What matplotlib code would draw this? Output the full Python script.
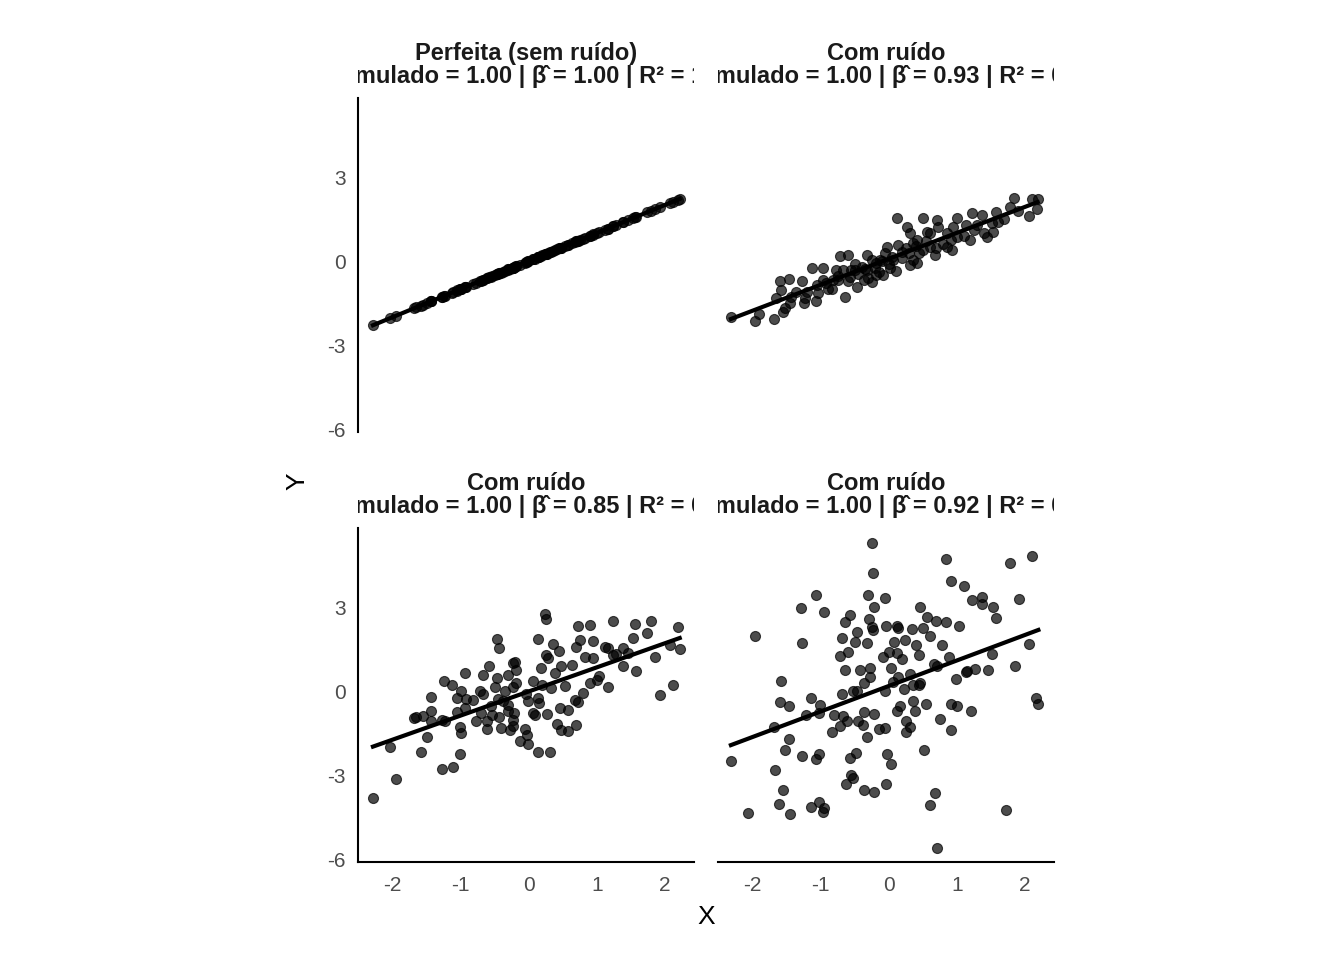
import numpy as np
import matplotlib.pyplot as plt
from matplotlib.transforms import Bbox, TransformedBbox

plt.rcParams['font.family'] = ['Liberation Sans', 'DejaVu Sans']
plt.rcParams['axes.unicode_minus'] = False

# painel "Com ruído" (sd baixo)
x_baixo = [-2.32, -1.97, -1.69, -1.53, -1.55, -1.65, -1.58, -1.60, -1.47, -1.28, -1.23, -1.25,
           -1.07, -1.04, -1.13, -0.96, -0.96, -0.84, -0.77, -0.72, -0.60, -0.64, -0.74, -0.57,
           -0.47, -0.40, -0.32, -0.25, -0.08, -0.32, -0.18, 0.02, -0.03, 0.12, 0.27, 0.31,
           0.36, 0.51, 0.71, 0.73, 0.56, 0.41, 0.61, 0.68, 0.86, 0.93, 1.00, 1.13, 1.23, 1.37,
           1.25, 1.40, 1.52, 1.54, 1.45, 1.20, 1.57, 1.79, 1.84, 2.11, 2.19, 2.18, 2.06, 0.36,
           0.41, 0.31, 0.07, 0.19, -0.18, -0.37, -0.55, -0.67, -0.82, -0.92, -1.06, -1.36,
           -1.43, 0.91, 1.00, 0.51, 0.14, -0.13, -0.50, -0.45, -0.35, -0.20, -0.10, 0.00, 0.05,
           0.20, 0.25, 0.45, 0.55, 0.80, 0.85, 1.10, -0.60, -0.75, -0.90, -1.20, -0.30, 0.10,
           0.60, 0.30, -0.05, -0.50, 0.95, 1.30, 1.70, 1.60, 1.90, -1.90, -1.45, -0.15, 0.40,
           0.70, -0.25]
y_baixo = [-1.99, -2.13, -2.07, -1.69, -1.81, -1.33, -1.04, -0.70, -0.64, -0.70, -1.33, -1.48,
           -1.42, -1.15, -0.26, -0.23, -0.68, -0.98, -0.32, 0.18, 0.21, -1.27, -0.68, -0.56,
           -0.92, -0.20, 0.21, -0.74, -0.50, -0.32, -0.08, -0.26, 0.51, 1.52, 1.23, 0.99,
           0.63, 1.52, 1.46, 1.23, 1.05, 0.75, 0.51, 0.21, 0.51, 0.39, 1.52, 1.29, 1.70, 1.64,
           1.11, 0.99, 1.35, 1.05, 0.85, 0.75, 1.76, 1.94, 2.24, 2.21, 2.20, 1.85, 1.61, 0.04,
           -0.08, -0.14, 0.04, 0.33, -0.50, -0.68, -0.32, -0.32, -0.68, -0.80, -0.86, -1.10,
           -1.27, 0.75, 0.87, 0.39, 0.57, 0.04, -0.32, -0.45, -0.30, -0.25, 0.00, -0.10, 0.15,
           0.10, 0.45, 0.30, 0.70, 0.60, 1.00, 0.90, -0.70, -0.55, -1.00, -1.10, -0.60, -0.35,
           1.00, 0.30, 0.30, -0.10, 1.20, 1.30, 1.50, 1.40, 1.80, -1.90, -1.50, -0.40, 0.55,
           0.45, 0.05]

# painel "Com ruído" (sd médio)
x_medio = [0.24, 0.25, -0.47, -0.43, 0.14, 0.72, 0.90, 1.24, 1.56, 1.80, 2.19, 1.74, 1.53, 0.76,
           0.94, 0.70, 0.35, 0.45, 0.26, 0.28, 1.12, 1.16, 1.39, 1.24, 1.29, 1.46, 2.07, 2.22,
           1.86, 0.83, 0.95, 0.63, 0.47, 0.18, 0.38, -0.58, -0.23, -0.20, -0.18, -0.94, -0.67,
           -0.46, -0.30, -1.25, -1.13, -1.00, -1.43, -1.06, -0.92, -0.82, -0.71, -0.67, -0.50,
           -0.35, -0.19, -0.23, 0.06, 0.20, 0.33, 0.54, 0.90, 1.04, 1.01, 1.16, 1.39, 1.58,
           2.12, 1.93, 0.80, 0.68, 0.72, -0.04, -0.01, 0.13, 0.15, -0.45, -0.38, -0.30, -0.56,
           -0.70, -0.54, -0.44, -0.31, -0.22, -0.23, 0.06, 0.09, 0.27, 0.46, 0.58, -1.05, -0.94,
           -1.44, -1.69, -1.65, -1.55, -1.44, -1.27, -1.23, -0.78, -0.62, -0.61, -0.41, -0.28,
           -0.23, -0.06, -0.02, -0.13, -0.01, 0.42, 0.48, 0.58, 0.70, -1.01, -1.00, -1.50,
           -2.04, -1.59, -1.01, 0.14, 0.32, -1.27, -1.11, -1.95, -2.29]
y_medio = [2.74, 2.57, 1.85, 1.55, 1.86, 2.34, 2.36, 2.50, 2.38, 2.50, 2.28, 2.09, 1.89, 1.83,
           1.77, 1.59, 1.68, 1.44, 1.29, 1.17, 1.59, 1.53, 1.55, 1.29, 1.32, 1.35, 1.65, 1.51,
           1.21, 1.23, 1.17, 0.94, 0.88, 0.82, 0.64, 0.91, 1.00, 1.02, 0.76, 0.64, 0.56, 0.46,
           0.58, 0.37, 0.20, 0.02, -0.21, -0.25, -0.27, -0.31, -0.01, -0.11, 0.13, -0.01, 0.28,
           0.13, 0.37, 0.23, 0.11, 0.17, 0.28, 0.55, 0.40, 0.14, 0.88, 0.70, 0.20, -0.15, -0.07,
           -0.31, -0.40, -0.11, -0.34, -0.25, -0.43, -0.28, -0.37, -0.49, -0.55, -0.78, -0.84,
           -0.93, -0.72, -0.78, -1.02, -0.78, -0.87, -0.81, -0.60, -0.69, -0.76, -0.60, -0.72,
           -0.96, -0.94, -0.90, -1.06, -1.02, -1.06, -1.06, -1.06, -1.35, -1.32, -1.38, -1.26,
           -1.35, -1.55, -1.77, -1.89, -1.16, -1.38, -1.44, -1.22, -1.29, -1.49, -1.65, -1.99,
           -2.17, -2.24, -2.17, -2.17, -2.78, -2.72, -3.12, -3.83]

# painel "Com ruído" (sd alto)
x_alto = [-0.24, 0.84, 2.11, 1.79, -0.23, 0.91, 1.10, -1.07, -0.31, -0.05, 1.91, 1.23, 1.37, 1.37,
          1.54, 1.57, -1.29, -0.95, -0.21, 0.46, -0.57, -0.65, -0.29, 0.56, 0.70, 0.84, -0.25,
          -0.23, -0.04, 0.12, 0.14, 0.34, 0.50, 1.03, -0.47, -0.69, -0.50, -0.32, 0.24, 0.61,
          -1.97, -1.27, 0.08, 0.40, 0.79, 2.06, -0.72, -0.60, -0.08, 0.01, 0.12, 0.19, 0.44,
          0.89, 1.52, -0.64, -0.42, -0.27, -0.28, -0.37, 0.04, 0.14, 0.31, 0.46, 0.66, 0.71,
          1.15, 1.13, 1.27, 1.46, 1.85, -1.58, 0.99, -0.69, -0.52, -0.46, -0.05, 0.07, 0.22,
          0.36, 0.44, -1.14, -1.01, -1.60, -1.46, -1.22, -1.02, -0.81, -0.67, -0.37, -0.22,
          0.12, 0.16, 0.36, 0.39, 0.55, 0.91, 1.00, 1.21, 2.17, 2.20, -1.69, -0.84, -0.71,
          -0.62, -0.45, -0.38, -0.14, -0.05, 0.26, 0.31, 0.26, 0.75, 0.92, -1.47, -0.32, -1.52,
          -1.27, -1.07, -1.02, -0.57, -0.48, -0.03, 0.04, 0.52, -2.32, -1.67, -0.56, -0.53,
          -0.63, -0.04, -1.55, -0.37, -0.22, 0.68, 0.60, -1.62, -1.14, -1.02, -0.95, -0.96,
          -2.07, -1.45, 1.72, 0.71]
y_alto = [5.29, 4.73, 4.82, 4.57, 4.22, 3.94, 3.76, 3.44, 3.43, 3.33, 3.27, 3.25, 3.37, 3.10,
          3.01, 2.60, 2.95, 2.82, 3.00, 3.00, 2.70, 2.48, 2.57, 2.66, 2.50, 2.47, 2.30, 2.18,
          2.33, 2.34, 2.24, 2.21, 2.24, 2.31, 2.11, 1.89, 1.74, 1.71, 1.83, 1.95, 1.98, 1.70,
          1.74, 1.63, 1.65, 1.67, 1.26, 1.40, 1.23, 1.41, 1.35, 1.15, 1.29, 1.22, 1.34, 0.74,
          0.74, 0.84, 0.52, 0.28, 0.82, 0.52, 0.60, 0.28, 0.96, 0.91, 0.70, 0.68, 0.78, 0.77,
          0.88, 0.36, 0.42, -0.09, 0.01, -0.01, 0.02, 0.32, 0.08, 0.23, 0.23, -0.25, -0.49,
          -0.40, -0.55, -0.84, -0.78, -0.84, -0.90, -0.75, -0.81, -0.70, -0.55, -0.37, -0.70,
          -0.46, -0.45, -0.55, -0.70, -0.23, -0.46, -1.28, -1.46, -1.26, -1.06, -1.06, -1.20,
          -1.35, -1.32, -1.06, -1.29, -1.46, -0.98, -1.38, -1.70, -1.65, -2.12, -2.33, -2.41,
          -2.24, -2.38, -2.21, -2.23, -2.59, -2.11, -2.50, -2.82, -2.98, -3.10, -3.30, -3.30,
          -3.52, -3.53, -3.59, -3.65, -4.05, -4.02, -4.14, -3.95, -4.16, -4.31, -4.34, -4.37,
          -4.25, -5.61]

# painel sem ruído: os pontos caem exatamente sobre y = x
x_perfeita = list(x_medio)
y_perfeita = list(x_medio)

paineis = [
    ("Perfeita (sem ruído)", "1.00", "1.00", "1.00", x_perfeita, y_perfeita),
    ("Com ruído", "1.00", "0.93", "0.85", x_baixo, y_baixo),
    ("Com ruído", "1.00", "0.85", "0.55", x_medio, y_medio),
    ("Com ruído", "1.00", "0.92", "0.19", x_alto, y_alto),
]

fig = plt.figure(figsize=(13.44, 9.6), dpi=100)

W, H = 1344, 960
posicoes = [(358, 98), (718, 98), (358, 528), (718, 528)]
lado = 336

for i, (nome, b_sim, b_hat, r2, xs, ys) in enumerate(paineis):
    px, py = posicoes[i]
    ax = fig.add_axes([px / W, 1 - (py + 334) / H, lado / W, 334 / H])
    xs = np.array(xs)
    ys = np.array(ys)
    ax.scatter(xs, ys, s=52, color='black', alpha=0.7, edgecolors='black',
               linewidths=0.8, zorder=2)
    coef = np.polyfit(xs, ys, 1)
    xl = np.array([xs.min(), xs.max()])
    ax.plot(xl, np.polyval(coef, xl), color='black', lw=3, zorder=3)

    ax.set_xlim(-2.51, 2.43)
    ax.set_ylim(-6.1, 5.82)
    ax.set_xticks([-2, -1, 0, 1, 2])
    ax.set_yticks([-6, -3, 0, 3])
    ax.tick_params(length=0, labelsize=15, labelcolor='#4d4d4d')
    ax.tick_params(axis='x', pad=10)
    ax.tick_params(axis='y', pad=9)
    for s in ['top', 'right', 'left', 'bottom']:
        ax.spines[s].set_visible(False)
    if i % 2 == 0:
        ax.spines['left'].set_visible(True)
        ax.spines['left'].set_linewidth(1.5)
    else:
        ax.set_yticklabels([])
    if i >= 2:
        ax.spines['bottom'].set_visible(True)
        ax.spines['bottom'].set_linewidth(1.5)
    else:
        ax.set_xticklabels([])

    # o texto da faixa é mais largo que o painel e fica cortado nas bordas
    titulo = f"{nome}\nβ simulado = {b_sim} | β\u0302 = {b_hat} | R² = {r2}"
    t = ax.text(0.5, 1.0 + 10 / 334, titulo, transform=ax.transAxes, ha='center',
                va='bottom', fontsize=17, fontweight='bold', color='#1a1a1a',
                linespacing=0.98)
    t.set_clip_box(TransformedBbox(Bbox.from_extents(0, 1, 1, 1.4), ax.transAxes))
    t.set_clip_on(True)

fig.text(706 / W, 1 - 917 / H, "X", ha='center', va='center', fontsize=19)
fig.text(297 / W, 1 - 481 / H, "Y", ha='center', va='center', fontsize=19, rotation=90)

fig.savefig("out.png", dpi=100, facecolor='white')
